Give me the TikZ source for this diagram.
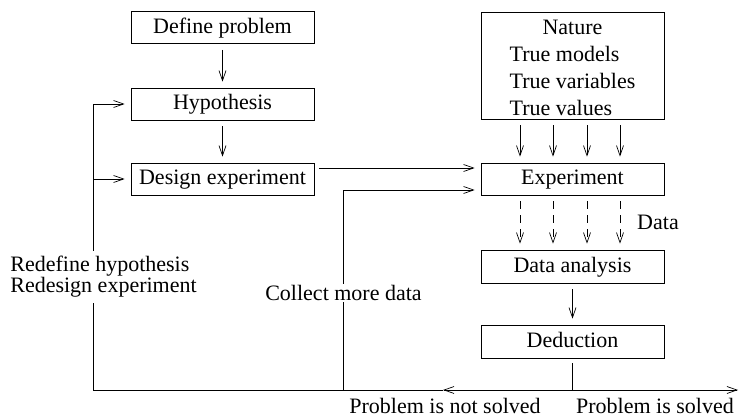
\documentclass[tikz,border=0pt]{standalone}
\usepackage{fontspec}
\setmainfont{Liberation Serif}
\usetikzlibrary{arrows.meta,calc}

\begin{document}
\begin{tikzpicture}[x=1pt,y=-1pt,line width=0.7pt,
    font=\fontsize{22}{27}\selectfont,
    >={Straight Barb[length=10pt,width=7pt]},
    box/.style={draw,minimum width=183pt,minimum height=32pt,inner sep=0pt,text height=16pt,text depth=4pt},
    flow/.style={->,shorten <=6pt,shorten >=6pt},
    lbl/.style={fill=white,inner sep=2pt}]
    \useasboundingbox (0,0) rectangle (741,419);

    % left column
    \node[box] (Define) at (222.5,27.5) {Define problem};
    \node[box] (Hyp) at (222.5,104) {Hypothesis};
    \node[box] (Design) at (222.5,179) {Design experiment};

    % right column
    \node[draw,inner sep=0pt,minimum width=183pt,text height=62.5pt,text depth=44.5pt] (Nature) at (572.5,65.5)
        {\begin{tabular}{@{}l@{}}\multicolumn{1}{@{}c@{}}{Nature}\\True models\\True variables\\True values\end{tabular}};
    \node[box] (Exp) at (572.5,179) {Experiment};
    \node[box,minimum height=33pt] (Ana) at (572.5,266.5) {Data analysis};
    \node[box,minimum height=33pt] (Ded) at (572.5,341.5) {Deduction};

    \node (Data) at (658,222) {Data};

    \draw[flow] (Define) -- (Hyp);
    \draw[flow] (Hyp) -- (Design);
    \draw[flow] (Ana) -- (Ded);

    \foreach \dx in {-52.5,-19.5,14.5,47.5} {
        \draw[flow] ([xshift=\dx pt]Nature.south) -- ([xshift=\dx pt]Exp.north);
        \draw[flow,dash pattern=on 8pt off 6pt] ([xshift=\dx pt]Exp.south) -- ([xshift=\dx pt]Ana.north);
    }

    \draw[->,shorten <=5pt,shorten >=6pt] ($(Design.east)+(0,-11)$) -- ($(Exp.west)+(0,-11)$);

    % outcome line
    \coordinate (Split) at (572.5,390);
    \coordinate (NotSolved) at (443,390);
    \coordinate (Solved) at (738,390);
    \coordinate (LoopL) at (93,390);
    \coordinate (LoopM) at (343,390);
    \coordinate (More) at ($(LoopM |- Exp)+(0,11)$);

    \draw[shorten <=5pt] (Ded.south) -- (Split);
    \draw[->] (Split) -- (NotSolved);
    \draw[->] (Split) -- (Solved);
    \draw (NotSolved) -- (LoopL) -- (LoopL |- Hyp);
    \draw[->,shorten >=6pt] (LoopL |- Hyp) -- (Hyp.west);
    \draw[->,shorten >=6pt] (LoopL |- Design) -- (Design.west);
    \draw[->,shorten >=6pt] (LoopM) -- (More) -- (Exp.west |- More);

    \node[below] (NotSolvedLbl) at ($(NotSolved)+(2,5)$) {Problem is not solved};
    \node[below] (SolvedLbl) at ($(Solved)+(-83,5)$) {Problem is solved};
    \node[lbl,anchor=west,align=left,font=\fontsize{22}{21}\selectfont,inner ysep=5pt] (Redo) at (8,277)
        {Redefine hypothesis\\Redesign experiment};
    \node[lbl,inner sep=1pt] (Collect) at (343.5,293) {Collect more data};
\end{tikzpicture}
\end{document}
